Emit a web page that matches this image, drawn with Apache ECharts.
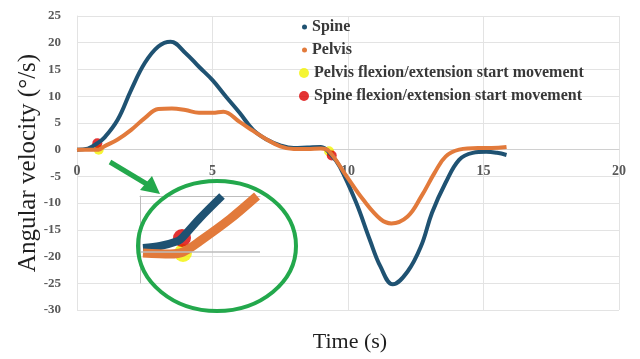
<!DOCTYPE html>
<html><head><meta charset="utf-8">
<script src="https://cdn.jsdelivr.net/npm/echarts@6/dist/echarts.min.js"></script>
<style>html,body{margin:0;padding:0;background:#fff}#c{width:640px;height:359px}</style>
</head><body><div id="c"></div>
<script>
// ---- data ----
const spineT = [0, 0.4, 0.75, 1, 1.5, 2, 2.5, 3, 3.45, 4, 4.5, 5, 5.5, 6, 6.5, 7, 7.5, 8, 8.5, 9, 9.4, 9.7, 10.3, 10.8, 11.2, 11.65, 12.2, 12.7, 13.1, 13.6, 14.1, 14.6, 15.1, 15.5, 15.85];
const spineV = [0, 0.2, 1.2, 2.2, 5.6, 11.2, 16.2, 19.3, 20.2, 18.1, 15.5, 13, 9.9, 6.9, 3.7, 1.9, 0.8, 0.3, 0.4, 0.5, -1.1, -3.2, -9.9, -16.8, -21.9, -25.2, -22.8, -18, -11.8, -6.2, -1.9, -0.6, -0.4, -0.6, -1.0];
const pelvisT = [0, 0.5, 0.8, 1, 1.5, 2, 2.5, 3, 3.5, 4, 4.5, 5, 5.4, 6, 6.5, 7, 7.5, 8, 8.5, 9, 9.3, 9.95, 10.55, 11.2, 11.6, 12.2, 12.7, 13.2, 13.6, 14.1, 14.8, 15.3, 15.85];
const pelvisV = [0, 0, 0, 0.6, 1.9, 3.7, 5.9, 7.6, 7.7, 7.4, 6.9, 6.9, 7.1, 5.2, 3.5, 1.9, 0.6, 0.1, 0.1, 0.2, -0.3, -5, -9.3, -13, -13.8, -12.5, -8.8, -4.3, -1.3, 0, 0.3, 0.3, 0.5];
const pelvisStartT = [0.8, 9.3];
const pelvisStartV = [0, -0.3];
const spineStartT = [0.75, 9.4];
const spineStartV = [1.2, -1.1];
// magnified inset (its own zoomed units)
const insetSpineT = [0.03, 0.2, 0.38, 0.42, 0.6, 0.82];
const insetSpineV = [0.2, 0.3, 0.55, 0.7, 1.7, 2.8];
const insetPelvisT = [0.03, 0.3, 0.43, 0.6, 0.9, 1.17];
const insetPelvisV = [-0.05, -0.1, 0, 0.55, 1.65, 2.8];
const insetPelvisStartT = [0.43];
const insetPelvisStartV = [-0.05];
const insetSpineStartT = [0.42];
const insetSpineStartV = [0.7];
// axes
const xMin = 0, xMax = 20, xStep = 5;
const yMin = -30, yMax = 25, yStep = 5;

const names = ['Spine', 'Pelvis', 'Pelvis flexion/extension start movement', 'Spine flexion/extension start movement'];
const zip = (a, b) => a.map((v, i) => [v, b[i]]);

const SERIF = '"Liberation Serif","DejaVu Serif",serif';
const cSpine = '#1f5272', cPelvis = '#e27a3b', cYellow = '#f2f200', cRed = '#dc0000', cGreen = '#23a84c';

const H = 359, gridTop = 16, gridBottom = 49;
const plotH = H - gridTop - gridBottom;
// place the x axis on the y = 0 line through the y scale
const zeroOffset = -plotH * (0 - yMin) / (yMax - yMin);

const chart = echarts.init(document.getElementById('c'), null, {renderer: 'canvas'});
chart.setOption({
  backgroundColor: '#fff',
  animation: false,
  grid: [
    {left: 77, right: 21, top: gridTop, bottom: gridBottom},
    {left: 140, top: 196, width: 120, height: 87}
  ],
  legend: [
    {data: names.slice(0, 2), orient: 'vertical', left: 302, top: 19, padding: 0, itemGap: 7,
     icon: 'circle', itemWidth: 5, itemHeight: 5,
     textStyle: {fontFamily: SERIF, fontSize: 16, fontWeight: 'bold', color: '#383838', lineHeight: 16}},
    {data: names.slice(2), orient: 'vertical', left: 299, top: 65, padding: 0, itemGap: 7,
     icon: 'circle', itemWidth: 10, itemHeight: 10,
     textStyle: {fontFamily: SERIF, fontSize: 16, fontWeight: 'bold', color: '#383838', lineHeight: 16}}
  ],
  xAxis: [
    {type: 'value', gridIndex: 0, min: xMin, max: xMax, interval: xStep, position: 'bottom', offset: zeroOffset,
     axisLine: {show: true, onZero: false, lineStyle: {color: '#d0d0d0'}}, axisTick: {show: false},
     axisLabel: {fontFamily: SERIF, fontSize: 14, fontWeight: 'bold', color: '#595959', margin: 15},
     splitLine: {show: true, lineStyle: {color: '#e3e3e3'}}},
    {type: 'value', gridIndex: 1, min: 0, max: 1.2, position: 'top',
     axisLine: {show: true, onZero: false, lineStyle: {color: '#bdbdbd'}}, axisTick: {show: false},
     axisLabel: {show: false}, splitLine: {show: false}}
  ],
  yAxis: [
    {type: 'value', gridIndex: 0, min: yMin, max: yMax, interval: yStep,
     name: 'Angular velocity (°/s)', nameLocation: 'middle', nameGap: 36, nameRotate: 90, nameMoveOverlap: false,
     nameTextStyle: {fontFamily: SERIF, fontSize: 25, color: '#1f1f1f'},
     axisLine: {show: true, onZero: false, lineStyle: {color: '#e3e3e3'}}, axisTick: {show: false},
     axisLabel: {fontFamily: SERIF, fontSize: 13, fontWeight: 'bold', color: '#595959', margin: 16},
     splitLine: {show: true, lineStyle: {color: '#e3e3e3'}}},
    {type: 'value', gridIndex: 1, min: -1.55, max: 2.8,
     axisLine: {show: true, onZero: false, lineStyle: {color: '#bdbdbd'}}, axisTick: {show: false},
     axisLabel: {show: false}, splitLine: {show: false}}
  ],
  series: [
    {name: names[0], type: 'line', xAxisIndex: 0, yAxisIndex: 0, data: zip(spineT, spineV),
     smooth: 0.4, showSymbol: false, color: cSpine, lineStyle: {width: 4, color: cSpine}},
    {name: names[1], type: 'line', xAxisIndex: 0, yAxisIndex: 0, data: zip(pelvisT, pelvisV),
     smooth: 0.4, showSymbol: false, color: cPelvis, lineStyle: {width: 4, color: cPelvis}},
    {name: names[2], type: 'scatter', xAxisIndex: 0, yAxisIndex: 0, data: zip(pelvisStartT, pelvisStartV),
     symbolSize: 10, itemStyle: {color: cYellow}, color: cYellow},
    {name: names[3], type: 'scatter', xAxisIndex: 0, yAxisIndex: 0, data: zip(spineStartT, spineStartV),
     symbolSize: 10, itemStyle: {color: cRed}, color: cRed},
    // inset (magnified view)
    {name: 'insetSpine', type: 'line', xAxisIndex: 1, yAxisIndex: 1, data: zip(insetSpineT, insetSpineV),
     smooth: 0.3, showSymbol: false, lineStyle: {width: 8, color: cSpine}},
    {name: 'insetPelvis', type: 'line', xAxisIndex: 1, yAxisIndex: 1, data: zip(insetPelvisT, insetPelvisV),
     smooth: 0.3, showSymbol: false, lineStyle: {width: 9, color: cPelvis},
     markLine: {silent: true, symbol: 'none', label: {show: false}, lineStyle: {color: '#bdbdbd', width: 1.5, type: 'solid'},
                data: [{yAxis: 0}]}},
    {name: 'insetYellow', type: 'scatter', xAxisIndex: 1, yAxisIndex: 1, data: zip(insetPelvisStartT, insetPelvisStartV),
     symbolSize: 18, itemStyle: {color: cYellow}},
    {name: 'insetRed', type: 'scatter', xAxisIndex: 1, yAxisIndex: 1, data: zip(insetSpineStartT, insetSpineStartV),
     symbolSize: 18, itemStyle: {color: cRed}}
  ],
  graphic: [
    {type: 'ellipse', shape: {cx: 217, cy: 246, rx: 79, ry: 65}, style: {fill: 'none', stroke: cGreen, lineWidth: 4}, z: 100},
    {type: 'line', shape: {x1: 110, y1: 162, x2: 150, y2: 186}, style: {stroke: cGreen, lineWidth: 5}, z: 100},
    {type: 'polygon', shape: {points: [[160, 194], [140, 190], [152, 176]]}, style: {fill: cGreen}, z: 100},
    {type: 'text', x: 350, y: 342, style: {text: 'Time (s)', font: '22px ' + SERIF, fill: '#1f1f1f', textAlign: 'center', textVerticalAlign: 'middle'}}
  ]
});
</script></body></html>
